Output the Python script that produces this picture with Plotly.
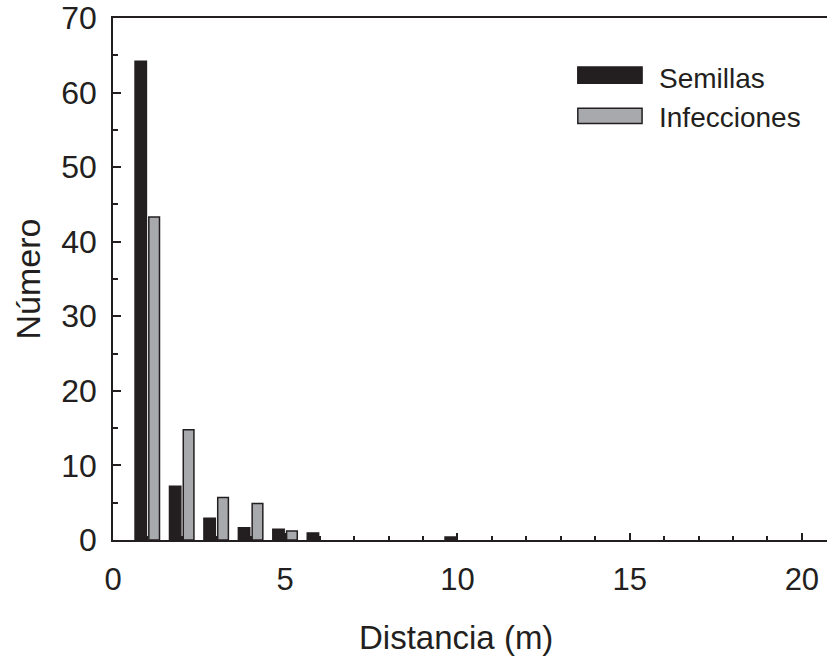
import plotly.graph_objects as go

distancia = [1, 2, 3, 4, 5, 6, 10]
semillas = [64.2, 7.2, 2.9, 1.65, 1.45, 0.95, 0.4]
infecciones = [43.3, 14.8, 5.7, 4.9, 1.2, None, None]

x_ticks = [0, 5, 10, 15, 20]
y_ticks = [0, 10, 20, 30, 40, 50, 60, 70]

INK = "#231f20"
GREY = "#a7a9ac"
FONT = "Liberation Sans, Arial, Helvetica, sans-serif"

fig = go.Figure()
fig.add_trace(go.Bar(x=distancia, y=semillas, name="Semillas", width=0.33, offset=-0.36,
                     marker=dict(color=INK, line=dict(color=INK, width=1.5)), showlegend=False))
fig.add_trace(go.Bar(x=distancia, y=infecciones, name="Infecciones", width=0.31, offset=0.04,
                     marker=dict(color=GREY, line=dict(color=INK, width=1.5)), showlegend=False))

# custom legend (large swatches like the original)
legend_items = [("Semillas", INK, 0.906, 0.875, 0.885), ("Infecciones", GREY, 0.827, 0.798, 0.810)]
for name, col, y1, y0, yt in legend_items:
    fig.add_shape(type="rect", xref="paper", yref="paper", x0=0.651, x1=0.741, y0=y0, y1=y1,
                  fillcolor=col, line=dict(color=INK, width=1.5))
    fig.add_annotation(text=name, xref="paper", yref="paper", x=0.762, y=yt, xanchor="left",
                       yanchor="middle", showarrow=False, font=dict(size=28, color=INK, family=FONT))

# x-axis title (placed as in the original, slightly left of the plot centre)
fig.add_annotation(text="Distancia (m)", xref="paper", yref="paper", x=0.48, y=-0.186,
                   xanchor="center", yanchor="middle", showarrow=False,
                   font=dict(size=33, color=INK, family=FONT))

fig.update_layout(
    width=827, height=659,
    margin=dict(l=113, r=0, t=18, b=119),
    plot_bgcolor="white", paper_bgcolor="white",
    barmode="overlay",
    font=dict(family=FONT, color=INK, size=31),
    xaxis=dict(range=[0, 20.73], tickvals=x_ticks, ticks="inside", ticklen=7, tickwidth=1.5,
               tickcolor=INK, showline=True, linecolor=INK, linewidth=1.5, mirror=True,
               showgrid=False, zeroline=False, tickfont=dict(size=31), automargin=False,
               minor=dict(dtick=1, ticks="inside", ticklen=4, tickwidth=1.5, tickcolor=INK, showgrid=False),
               ticklabelstandoff=11, ticklabeloverflow="allow"),
    yaxis=dict(range=[0, 70], tickvals=y_ticks, ticks="inside", ticklen=8, tickwidth=1.5,
               tickcolor=INK, showline=True, linecolor=INK, linewidth=1.5, mirror=False,
               showgrid=False, zeroline=False, tickfont=dict(size=32), automargin=False,
               minor=dict(dtick=5, ticks="inside", ticklen=5, tickwidth=1.5, tickcolor=INK, showgrid=False),
               ticklabelstandoff=8, ticklabeloverflow="allow",
               title=dict(text="Número", font=dict(size=34), standoff=10)),
)

fig.write_html("out.html", config={"displayModeBar": False},
               post_script="document.body.style.margin='0';document.body.style.padding='0';")
